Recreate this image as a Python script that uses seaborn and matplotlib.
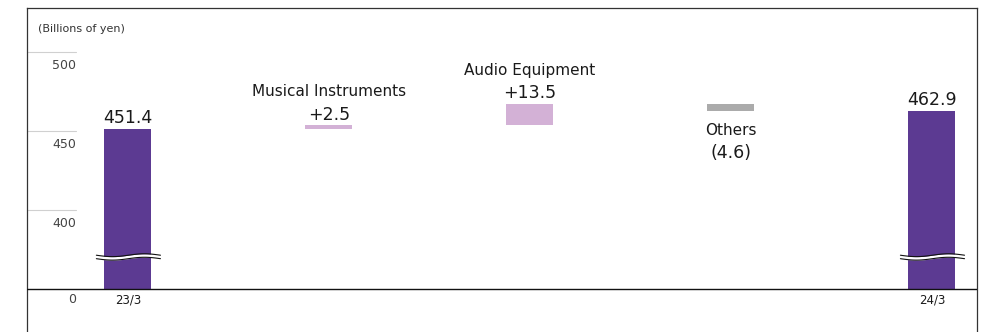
import numpy as np
import pandas as pd
import matplotlib
matplotlib.use("Agg")
import matplotlib.pyplot as plt
import seaborn as sns

# ---------------- data ----------------
steps = ["23/3", "Musical Instruments", "Audio Equipment", "Others", "24/3"]
values = [451.4, 2.5, 13.5, -4.6, 462.9]
value_labels = ["451.4", "+2.5", "+13.5", "(4.6)", "462.9"]
ytick_values = [400, 450, 500]
ytick_labels = ["400", "450", "500"]
unit_label = "(Billions of yen)"

# ---------------- style ----------------
sns.set_style("white")
plt.rcParams["font.family"] = ["DejaVu Sans"]

PURPLE = "#5C3A92"
LILAC = "#D3B1D6"
GRAY = "#ABABAB"
TEXT = "#1a1a1a"

OFFSET = 350  # broken axis: values above the break are shifted down by this

# waterfall geometry in plot units
bottoms, heights, colors = [], [], []
running = 0.0
for i, v in enumerate(values):
    if i == 0 or i == len(values) - 1:
        bottoms.append(0.0)
        heights.append(v - OFFSET)
        colors.append(PURPLE)
        running = v
    else:
        lo, hi = sorted([running, running + v])
        bottoms.append(lo - OFFSET)
        heights.append(hi - lo)
        colors.append(LILAC if v >= 0 else GRAY)
        running += v

df = pd.DataFrame({"step": steps, "height": heights})

fig = plt.figure(figsize=(9.89, 3.32), dpi=100)
ax = fig.add_axes([27 / 989, 0, 950 / 989, (332 - 8) / 332])

sns.barplot(data=df, x="step", y="height", bottom=bottoms, width=0.234,
            color=PURPLE, linewidth=0, errorbar=None, ax=ax)
for patch, c in zip(ax.patches, colors):
    patch.set_facecolor(c)
    patch.set_edgecolor("none")

ax.set_xlim(-0.502, 4.224)
ax.set_ylim(-27.2, 177.85)
ax.set_xticks([])
ax.set_yticks([])
ax.set_xlabel("")
ax.set_ylabel("")

for side in ["top", "left", "right"]:
    ax.spines[side].set_visible(True)
    ax.spines[side].set_color("#333333")
    ax.spines[side].set_linewidth(0.9)
ax.spines["bottom"].set_visible(False)

# baseline
ax.axhline(0, color="#111111", lw=1.0, zorder=3)

# short gridlines + y tick labels (below each line)
xr = 0.0516
for v, lab in zip(ytick_values, ytick_labels):
    y = v - OFFSET
    ax.axhline(y, xmin=0, xmax=xr, color="#d0d0d0", lw=0.8, zorder=0)
    ax.annotate(lab, xy=(xr, y), xycoords=("axes fraction", "data"),
                xytext=(0, -12.3), textcoords="offset points",
                ha="right", va="baseline", fontsize=9, color="#444444")
ax.annotate("0", xy=(xr, 0), xycoords=("axes fraction", "data"),
            xytext=(0, -10.3), textcoords="offset points",
            ha="right", va="baseline", fontsize=9, color="#444444")

ax.text(0.0116, 0.936, unit_label, transform=ax.transAxes, ha="left",
        va="center", fontsize=8, color="#333333")

# labels
n = len(steps)
for i, (name, lab) in enumerate(zip(steps, value_labels)):
    top = bottoms[i] + heights[i]
    if i == 0 or i == n - 1:
        ax.annotate(lab, xy=(i, top), xytext=(0, 4.3), textcoords="offset points",
                    ha="center", va="baseline", fontsize=12.5, color=TEXT)
        ax.annotate(name, xy=(i, 0), xytext=(0, -10.3), textcoords="offset points",
                    ha="center", va="baseline", fontsize=8.5, color=TEXT)
    elif values[i] >= 0:
        ax.annotate(lab, xy=(i, top), xytext=(0, 3.8), textcoords="offset points",
                    ha="center", va="baseline", fontsize=12.5, color=TEXT)
        ax.annotate(name, xy=(i, top), xytext=(0, 20.5), textcoords="offset points",
                    ha="center", va="baseline", fontsize=11, color=TEXT)
    else:
        ax.annotate(name, xy=(i, bottoms[i]), xytext=(0, -17.3), textcoords="offset points",
                    ha="center", va="baseline", fontsize=11, color=TEXT)
        ax.annotate(lab, xy=(i, bottoms[i]), xytext=(0, -34), textcoords="offset points",
                    ha="center", va="baseline", fontsize=12.5, color=TEXT)

# axis-break marks on the total bars
BREAK_Y = 20.3
for i in (0, n - 1):
    xs = np.linspace(i - 0.157, i + 0.162, 80)
    t = (xs - xs[0]) / (xs[-1] - xs[0])
    wave = 0.9 * np.sin(2 * np.pi * t + np.pi)
    lo = BREAK_Y - 1.1 + wave
    hi = BREAK_Y + 1.1 + wave
    ax.fill_between(xs, lo, hi, color="white", lw=0, zorder=4)
    ax.plot(xs, lo, color="#111111", lw=0.8, zorder=5)
    ax.plot(xs, hi, color="#111111", lw=0.8, zorder=5)

fig.savefig("out.png", dpi=100, facecolor="white")
